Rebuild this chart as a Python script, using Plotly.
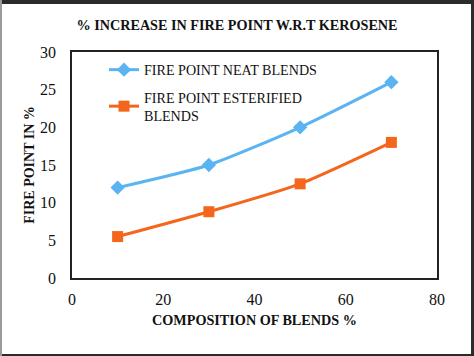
import plotly.graph_objects as go

composition = [10, 30, 50, 70]
neat_blends = [12, 15, 20, 26]
esterified_blends = [5.5, 8.8, 12.5, 18]
x_ticks = [0, 20, 40, 60, 80]
y_ticks = [0, 5, 10, 15, 20, 25, 30]

W, H = 474, 356
L, R, T, B = 72, 37, 52, 78
pw, ph = W - L - R, H - T - B

def px(x):
    return (x - L) / pw

def py(y):
    return (H - B - y) / ph

serif = "Liberation Serif"

fig = go.Figure()
fig.add_trace(go.Scatter(
    x=composition, y=neat_blends, mode="lines+markers",
    name="FIRE POINT NEAT BLENDS", legendgroup="neat",
    line=dict(color="#5BB4F2", width=3, shape="spline", smoothing=0.6),
    marker=dict(symbol="diamond", size=11, color="#5BB4F2"),
))
fig.add_trace(go.Scatter(
    x=composition, y=esterified_blends, mode="lines+markers",
    name="FIRE POINT ESTERIFIED<br>BLENDS", legendgroup="ester",
    line=dict(color="#F4661B", width=3, shape="spline", smoothing=0.6),
    marker=dict(symbol="square", size=11, color="#F4661B"),
))

axis_common = dict(
    showgrid=False, zeroline=False, showline=True, linecolor="#222222",
    linewidth=1.5, mirror=True, ticks="", automargin=False,
    tickfont=dict(family=serif, size=16, color="#111111"),
)

fig.update_layout(
    width=W, height=H,
    font=dict(family=serif),
    margin=dict(l=L, r=R, t=T, b=B, autoexpand=False),
    paper_bgcolor="white", plot_bgcolor="white",
    title=dict(text="<b>% INCREASE IN FIRE POINT W.R.T KEROSENE</b>",
               x=237 / W, xref="container", xanchor="center",
               y=1 - 25 / H, yref="container", yanchor="middle", automargin=False,
               font=dict(family=serif, size=14.2, color="#111111")),
    xaxis=dict(range=[0, 80], tickvals=x_ticks, ticklabelstandoff=6,
               title=dict(text="<b>COMPOSITION OF BLENDS %</b>", standoff=8,
                          font=dict(family=serif, size=14.2, color="#111111")),
               **axis_common),
    yaxis=dict(range=[0, 30], tickvals=y_ticks, ticklabelstandoff=11,
               title=dict(text="<b>FIRE POINT IN %</b>", standoff=2,
                          font=dict(family=serif, size=14, color="#111111")),
               **axis_common),
    legend=dict(x=px(104), y=py(54), xanchor="left", yanchor="top",
                bgcolor="rgba(0,0,0,0)",
                font=dict(family=serif, size=14.1, color="#111111"),
                tracegroupgap=6),
    showlegend=True,
    shapes=[
        dict(type="rect", xref="paper", yref="paper", x0=px(0), x1=px(W), y0=py(0), y1=py(4),
             fillcolor="#2b2b2b", line_width=0, layer="above"),
        dict(type="rect", xref="paper", yref="paper", x0=px(0), x1=px(W), y0=py(H - 2), y1=py(H),
             fillcolor="#2b2b2b", line_width=0, layer="above"),
        dict(type="rect", xref="paper", yref="paper", x0=px(W - 3), x1=px(W), y0=py(0), y1=py(H),
             fillcolor="#2b2b2b", line_width=0, layer="above"),
        dict(type="rect", xref="paper", yref="paper", x0=px(0), x1=px(2), y0=py(0), y1=py(H),
             fillcolor="#9a9a9a", line_width=0, layer="above"),
    ],
)

fig.write_html("out.html", config={"displayModeBar": False},
               post_script="document.body.style.margin='0';document.body.style.overflow='hidden';")
